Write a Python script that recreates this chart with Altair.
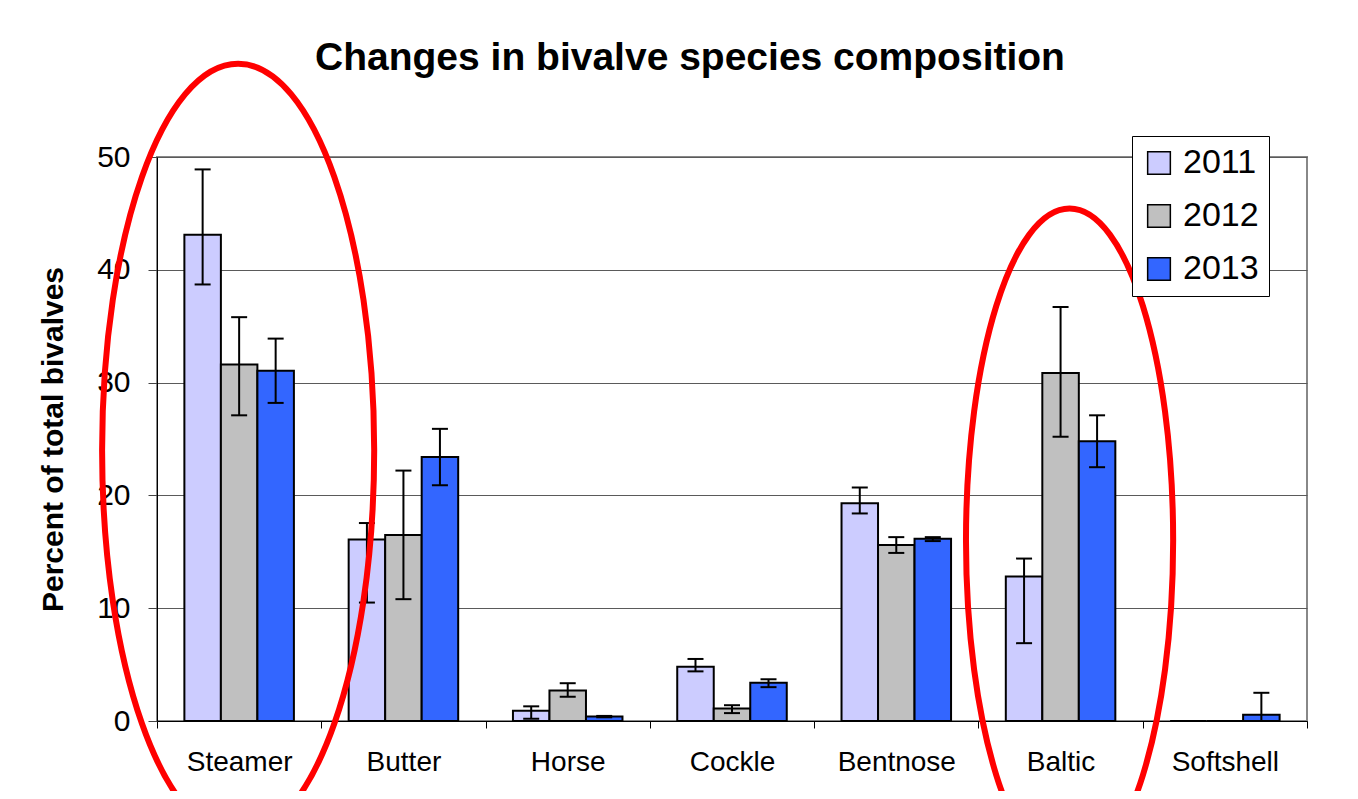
import altair as alt
import pandas as pd

# ---- data ----
species = ["Steamer", "Butter", "Horse", "Cockle", "Bentnose", "Baltic", "Softshell"]
years = ["2011", "2012", "2013"]

pct_2011 = [43.1, 16.1, 0.9, 4.8, 19.3, 12.8, 0.0]
pct_2012 = [31.6, 16.5, 2.7, 1.1, 15.6, 30.85, 0.0]
pct_2013 = [31.05, 23.4, 0.4, 3.4, 16.15, 24.8, 0.55]

lo_2011 = [38.7, 10.5, 0.2, 4.4, 18.4, 6.9, None]
hi_2011 = [48.9, 17.55, 1.3, 5.5, 20.7, 14.4, None]
lo_2012 = [27.1, 10.8, 2.15, 0.7, 14.9, 25.2, None]
hi_2012 = [35.8, 22.2, 3.35, 1.4, 16.3, 36.7, None]
lo_2013 = [28.2, 20.9, 0.33, 3.0, 15.95, 22.5, 0.0]
hi_2013 = [33.9, 25.9, 0.45, 3.7, 16.3, 27.1, 2.5]

y_ticks = [0, 10, 20, 30, 40, 50]
colors = ["#CCCCFF", "#C0C0C0", "#3366FF"]

# circled groups (annotation): category and the value at the ring's centre
ring_species = ["Steamer", "Baltic"]
ring_centre = [24.0, 16.0]

rows = []
for yr, p, lo, hi in zip(years, [pct_2011, pct_2012, pct_2013],
                         [lo_2011, lo_2012, lo_2013], [hi_2011, hi_2012, hi_2013]):
    for s, v, l, h in zip(species, p, lo, hi):
        rows.append({"species": s, "year": yr, "pct": v, "lo": l, "hi": h})
df = pd.DataFrame(rows)
err = df.dropna(subset=["lo", "hi"])

FONT = "Liberation Sans"

x_enc = alt.X("species:N", sort=species, title=None,
              scale=alt.Scale(paddingInner=0, paddingOuter=0),
              axis=alt.Axis(labelAngle=0, labelFontSize=28, labelFont=FONT,
                            labelColor="black", labelPadding=20,
                            tickBand="extent", tickSize=7, tickColor="black",
                            domainColor="black", domainWidth=1, grid=False))
xo_enc = alt.XOffset("year:N", sort=years,
                     scale=alt.Scale(paddingOuter=0.75, paddingInner=0))
y_scale = alt.Scale(domain=[0, 50], nice=False, zero=True)

bars = alt.Chart(df).mark_bar(stroke="black", strokeWidth=2).encode(
    x=x_enc,
    xOffset=xo_enc,
    y=alt.Y("pct:Q", scale=y_scale, title="Percent of total bivalves",
            axis=alt.Axis(values=y_ticks, labelFontSize=30, labelFont=FONT,
                          labelColor="black", labelPadding=18, tickSize=9,
                          tickColor="#444444", domainColor="black",
                          gridColor="#5a5a5a", gridWidth=1,
                          titleFont=FONT, titleFontSize=30, titleFontWeight="bold",
                          titleColor="black", titlePadding=28)),
    fill=alt.Fill("year:N", sort=years,
                  scale=alt.Scale(domain=years, range=colors),
                  legend=alt.Legend(title=None, orient="none",
                                    legendX=975, legendY=-21,
                                    symbolType="square", symbolSize=515,
                                    symbolStrokeColor="black", symbolStrokeWidth=1.5,
                                    labelFontSize=34, labelFont=FONT, labelColor="black",
                                    labelOffset=7, rowPadding=19, padding=10,
                                    strokeColor="black", fillColor="white")),
)

rules = alt.Chart(err).mark_rule(color="black", strokeWidth=2).encode(
    x=alt.X("species:N", sort=species),
    xOffset=alt.XOffset("year:N", sort=years),
    y=alt.Y("lo:Q", scale=y_scale),
    y2="hi:Q",
)
caps_hi = alt.Chart(err).mark_tick(color="black", size=16, thickness=2, opacity=1).encode(
    x=alt.X("species:N", sort=species),
    xOffset=alt.XOffset("year:N", sort=years),
    y=alt.Y("hi:Q", scale=y_scale),
)
caps_lo = alt.Chart(err).mark_tick(color="black", size=16, thickness=2, opacity=1).encode(
    x=alt.X("species:N", sort=species),
    xOffset=alt.XOffset("year:N", sort=years),
    y=alt.Y("lo:Q", scale=y_scale),
)


def ellipse_path(rx):
    k = 0.5523
    a, c = rx, k * rx
    return (f"M0,-1 C{c:.4f},-1 {a:.4f},-{k} {a:.4f},0 "
            f"C{a:.4f},{k} {c:.4f},1 0,1 "
            f"C-{c:.4f},1 -{a:.4f},{k} -{a:.4f},0 "
            f"C-{a:.4f},-{k} -{c:.4f},-1 0,-1 Z")


ring1 = alt.Chart(pd.DataFrame({"species": [ring_species[0]], "centre": [ring_centre[0]]})).mark_point(
    shape=ellipse_path(0.352), size=773 ** 2, filled=False, stroke="#FF0000",
    strokeWidth=6, opacity=1, xOffset=-1
).encode(x=alt.X("species:N", sort=species), y=alt.Y("centre:Q", scale=y_scale))

ring2 = alt.Chart(pd.DataFrame({"species": [ring_species[1]], "centre": [ring_centre[1]]})).mark_point(
    shape=ellipse_path(0.312), size=664 ** 2, filled=False, stroke="#FF0000",
    strokeWidth=6, opacity=1, xOffset=9
).encode(x=alt.X("species:N", sort=species), y=alt.Y("centre:Q", scale=y_scale))

chart = alt.layer(bars, rules, caps_hi, caps_lo, ring1, ring2).properties(
    width=1150, height=564,
    title=alt.TitleParams("Changes in bivalve species composition", font=FONT,
                          fontSize=39, fontWeight="bold", color="black",
                          anchor="middle", dx=-42, dy=42, offset=-15, baseline="alphabetic"),
    autosize=alt.AutoSizeParams(type="none"),
    padding={"left": 149, "top": 149, "right": 43, "bottom": 70},
    background="white",
).configure_view(stroke="#888888", strokeWidth=2)

chart.save("out.html", embed_options={"renderer": "svg", "actions": False})
